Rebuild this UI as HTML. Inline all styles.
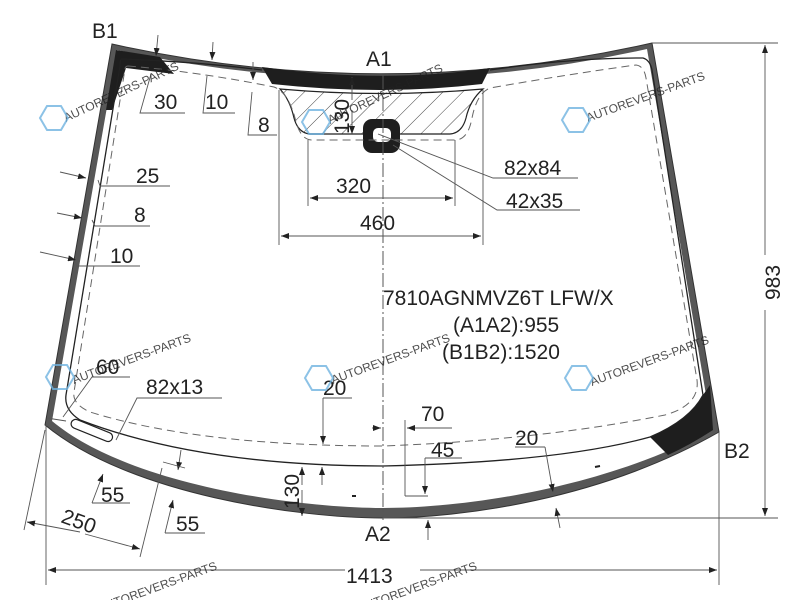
<!DOCTYPE html>
<html><head><meta charset="utf-8"><style>
html,body{margin:0;padding:0;background:#fff;}
svg{display:block;}
text{font-family:"Liberation Sans",Arial,sans-serif;fill:#222;}
</style></head><body>
<svg width="800" height="600" viewBox="0 0 800 600" xmlns="http://www.w3.org/2000/svg">
<defs>
<pattern id="h" width="14" height="14" patternUnits="userSpaceOnUse" patternTransform="rotate(45)">
<line x1="0" y1="0" x2="0" y2="14" stroke="#444" stroke-width="1"/>
</pattern>
<marker id="a" markerWidth="8" markerHeight="6" refX="8" refY="3" orient="auto" markerUnits="userSpaceOnUse">
<path d="M0,0 L8,3 L0,6 Z" fill="#222"/></marker>
</defs>

<path d="M112,44 Q382,104 652,43 L719,432 C600,500 460,518 383,518 C300,518 130,495 45,425 Z" fill="#575757" stroke="#333" stroke-width="1"/>
<path d="M117,50 Q382,108 647,49 L712,430 C600,490 460,508 383,508 C300,508 130,486 52,421 Z" fill="#fff"/>
<path d="M262,67 Q382,84 490,68 L482,84 Q382,96 272,84 Z" fill="#1e1e1e"/>
<path d="M116,50 L160,57 L174,74 L126,68 L112,110 L106,110 Z" fill="#1e1e1e"/>
<path d="M280,89 Q382,98 483,89 Q470,100 466,118 Q462,133 450,134 L310,134 Q298,133 294,118 Q290,100 280,89 Z" fill="url(#h)" stroke="#222" stroke-width="1.2"/>
<rect x="363" y="119" width="37" height="34" rx="9" fill="#1e1e1e"/>
<rect x="373" y="128" width="18" height="14" rx="5" fill="#fff"/>
<path d="M650,437 Q690,420 703,395 L710,385 L713,430 Q690,445 668,455 Z" fill="#1e1e1e"/>

<path d="M122,59 Q200,62 262,70 M490,70 Q570,58 643,58 Q650,60 652,70 L703,395 Q690,420 650,437 Q560,462 383,466 Q200,466 80,420 Q64,410 66,395 L120,66 Q120,59 122,59" fill="none" stroke="#222" stroke-width="1.3"/>
<path d="M128,66 Q200,72 274,87 Q288,92 295,118 Q300,140 312,140 L455,140 Q468,140 472,118 Q477,93 490,88 Q570,74 636,65 Q644,66 646,78 L697,380 Q700,405 665,415 Q540,440 383,446 Q200,446 90,412 Q72,404 74,392 L124,75 Q124,66 128,66" fill="none" stroke="#666" stroke-width="1" stroke-dasharray="8,5"/>
<rect x="70" y="426" width="44" height="9" rx="4.5" fill="#fff" stroke="#222" stroke-width="1.2" transform="rotate(22 92 430)"/>
<line x1="352" y1="496" x2="356" y2="496" stroke="#222" stroke-width="2"/>
<line x1="595" y1="467" x2="600" y2="466" stroke="#222" stroke-width="2"/>

<line x1="383" y1="75" x2="383" y2="520" stroke="#555" stroke-width="1" stroke-dasharray="14,3,2,3"/>

<g stroke="#555" stroke-width="0.9" fill="none">
<line x1="46" y1="425" x2="46" y2="585"/><line x1="719" y1="432" x2="719" y2="585"/>
<line x1="345" y1="570" x2="48" y2="570" marker-end="url(#a)"/>
<line x1="420" y1="570" x2="717" y2="570" marker-end="url(#a)"/>
<line x1="652" y1="43" x2="778" y2="43"/><line x1="383" y1="518" x2="778" y2="518"/>
<line x1="765" y1="255" x2="765" y2="45" marker-end="url(#a)"/>
<line x1="765" y1="310" x2="765" y2="516" marker-end="url(#a)"/>
<line x1="308" y1="140" x2="308" y2="206"/><line x1="455" y1="140" x2="455" y2="206"/>
<line x1="383" y1="198" x2="310" y2="198" marker-end="url(#a)"/><line x1="383" y1="198" x2="453" y2="198" marker-end="url(#a)"/>
<line x1="279" y1="90" x2="279" y2="245"/><line x1="483" y1="90" x2="483" y2="245"/>
<line x1="383" y1="236" x2="281" y2="236" marker-end="url(#a)"/><line x1="383" y1="236" x2="481" y2="236" marker-end="url(#a)"/>
<polyline points="378,134 493,178 578,178"/><polyline points="393,145 497,210 580,210"/>
<line x1="352" y1="100" x2="352" y2="77" marker-end="url(#a)"/><line x1="352" y1="110" x2="352" y2="134" marker-end="url(#a)"/>
<line x1="158" y1="35" x2="156" y2="56" marker-end="url(#a)"/><polyline points="185,113 140,113 151,74"/>
<line x1="213" y1="42" x2="212" y2="60" marker-end="url(#a)"/><polyline points="235,113 203,113 207,76"/>
<line x1="253" y1="62" x2="253" y2="80" marker-end="url(#a)"/><polyline points="277,135 248,135 252,92"/>
<line x1="60" y1="172" x2="86" y2="178" marker-end="url(#a)"/><polyline points="170,186 100,186 98,180"/>
<line x1="57" y1="213" x2="82" y2="218" marker-end="url(#a)"/><polyline points="150,226 95,226 92,220"/>
<line x1="40" y1="252" x2="76" y2="260" marker-end="url(#a)"/><polyline points="140,266 77,266 75,262"/>
<polyline points="130,377 92,377 63,417"/><polyline points="222,398 137,398 116,440"/>
<line x1="47" y1="418" x2="66" y2="421"/>
<polyline points="92,503 130,503"/><line x1="92" y1="503" x2="103" y2="474" marker-end="url(#a)"/>
<polyline points="165,533 205,533"/><line x1="165" y1="533" x2="173" y2="500" marker-end="url(#a)"/>
<line x1="181" y1="450" x2="178" y2="470" marker-end="url(#a)"/><line x1="163" y1="462" x2="185" y2="468"/>
<line x1="45" y1="430" x2="24" y2="530"/><line x1="162" y1="468" x2="140" y2="557"/>
<line x1="80" y1="532" x2="27" y2="522" marker-end="url(#a)"/><line x1="85" y1="534" x2="140" y2="549" marker-end="url(#a)"/>
<polyline points="352,398 323,398"/><line x1="323" y1="398" x2="323" y2="444" marker-end="url(#a)"/>
<line x1="302" y1="485" x2="302" y2="467" marker-end="url(#a)"/><line x1="302" y1="490" x2="302" y2="516" marker-end="url(#a)"/>
<line x1="322" y1="485" x2="322" y2="467" marker-end="url(#a)"/>
<line x1="428" y1="540" x2="428" y2="520" marker-end="url(#a)"/>
<line x1="372" y1="428" x2="381" y2="428" marker-end="url(#a)"/><line x1="452" y1="428" x2="407" y2="428" marker-end="url(#a)"/>
<line x1="405" y1="420" x2="405" y2="496"/><line x1="405" y1="496" x2="428" y2="496"/>
<polyline points="462,458 425,458"/><line x1="425" y1="458" x2="425" y2="494" marker-end="url(#a)"/>
<polyline points="545,447 515,447"/><line x1="545" y1="447" x2="553" y2="492" marker-end="url(#a)"/>
<line x1="560" y1="528" x2="556" y2="508" marker-end="url(#a)"/>
</g>

<g font-size="21">
<text x="92" y="38">B1</text>
<text x="366" y="66">A1</text>
<text x="365" y="541">A2</text>
<text x="724" y="458">B2</text>
<text x="154" y="109">30</text>
<text x="205" y="109">10</text>
<text x="258" y="132">8</text>
<text x="136" y="183">25</text>
<text x="134" y="222">8</text>
<text x="110" y="263">10</text>
<text x="336" y="193">320</text>
<text x="360" y="230">460</text>
<text x="504" y="175">82x84</text>
<text x="506" y="208">42x35</text>
<text x="96" y="374">60</text>
<text x="146" y="394">82x13</text>
<text x="323" y="395">20</text>
<text x="421" y="421">70</text>
<text x="431" y="457">45</text>
<text x="515" y="445">20</text>
<text x="101" y="502">55</text>
<text x="176" y="531">55</text>
<text x="346" y="583">1413</text>
<text transform="translate(60,522) rotate(20)">250</text>
<text transform="translate(349,134) rotate(-90)">130</text>
<text transform="translate(299,509) rotate(-90)">130</text>
<text transform="translate(780,300) rotate(-90)">983</text>
<text x="383" y="305">7810AGNMVZ6T LFW/X</text>
<text x="453" y="332">(A1A2):955</text>
<text x="442" y="359">(B1B2):1520</text>
</g>

<g fill="#6fb3e0" font-size="12" opacity="0.8">
<text transform="translate(66,122) rotate(-25)">AUTOREVERS-PARTS</text>
<text transform="translate(330,124) rotate(-25)">AUTOREVERS-PARTS</text>
<text transform="translate(588,122) rotate(-20)">AUTOREVERS-PARTS</text>
<text transform="translate(74,384) rotate(-20)">AUTOREVERS-PARTS</text>
<text transform="translate(333,384) rotate(-20)">AUTOREVERS-PARTS</text>
<text transform="translate(592,386) rotate(-20)">AUTOREVERS-PARTS</text>
<text transform="translate(100,612) rotate(-20)">AUTOREVERS-PARTS</text>
<text transform="translate(360,612) rotate(-20)">AUTOREVERS-PARTS</text>
</g>
<g fill="none" stroke="#6fb3e0" stroke-width="2" opacity="0.8">
<polygon points="40,118 47,106 61,106 68,118 61,130 47,130"/>
<polygon points="302,122 309,110 323,110 330,122 323,134 309,134"/>
<polygon points="562,120 569,108 583,108 590,120 583,132 569,132"/>
<polygon points="46,377 53,365 67,365 74,377 67,389 53,389"/>
<polygon points="305,378 312,366 326,366 333,378 326,390 312,390"/>
<polygon points="565,378 572,366 586,366 593,378 586,390 572,390"/>
</g>
</svg>
</body></html>
